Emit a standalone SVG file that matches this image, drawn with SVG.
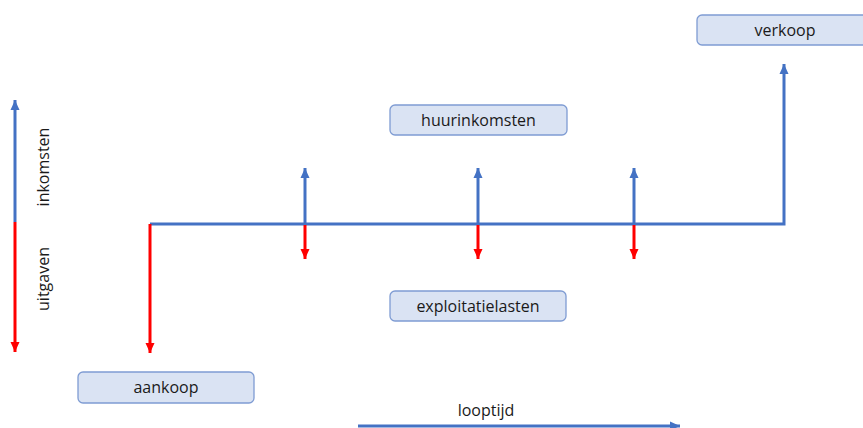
<svg xmlns="http://www.w3.org/2000/svg" width="863" height="428" viewBox="0 0 863 428">
<style>
.box{fill:#DAE3F3;stroke:#7F9CD3;stroke-width:1.3}
.lbl{font-family:"Open Sans","Liberation Sans",sans-serif;font-size:16px;fill:#1a1a1a;text-anchor:middle}
.b{stroke:#4472C4;stroke-width:3;fill:none}
.r{stroke:#FF0000;stroke-width:3;fill:none}
</style>
<defs>
<marker id="ab" markerUnits="userSpaceOnUse" markerWidth="12" markerHeight="12" viewBox="0 0 12 12" refX="11" refY="6" orient="auto"><path d="M1,1.5 L11,6 L1,10.5 Z" fill="#4472C4"/></marker>
<marker id="ar" markerUnits="userSpaceOnUse" markerWidth="12" markerHeight="12" viewBox="0 0 12 12" refX="11" refY="6" orient="auto"><path d="M1,1.5 L11,6 L1,10.5 Z" fill="#FF0000"/></marker>
</defs>
<rect width="863" height="428" fill="#fff"/>
<g id="connectors">
<path class="b" d="M15,222 V100" marker-end="url(#ab)"/>
<path class="r" d="M15,222 V352" marker-end="url(#ar)"/>
<path class="b" d="M150,224 H784 V64" marker-end="url(#ab)"/>
<path class="r" d="M150,224 V353" marker-end="url(#ar)"/>
<path class="b" d="M305,224 V168" marker-end="url(#ab)"/>
<path class="r" d="M305,225 V259" marker-end="url(#ar)"/>
<path class="b" d="M478,224 V168" marker-end="url(#ab)"/>
<path class="r" d="M478,225 V259" marker-end="url(#ar)"/>
<path class="b" d="M634,224 V168" marker-end="url(#ab)"/>
<path class="r" d="M634,225 V259" marker-end="url(#ar)"/>
<path class="b" d="M358,426 H680" marker-end="url(#ab)"/>
</g>
<g id="axis-labels">
<text class="lbl" transform="translate(49,167) rotate(-90)">inkomsten</text>
<text class="lbl" transform="translate(49,279) rotate(-90)">uitgaven</text>
</g>
<g id="verkoop"><rect class="box" x="697" y="15" width="176" height="30" rx="5"/><text class="lbl" x="785" y="35.5">verkoop</text></g>
<g id="huurinkomsten"><rect class="box" x="390" y="105" width="177" height="30" rx="5"/><text class="lbl" x="478.5" y="125.5">huurinkomsten</text></g>
<g id="exploitatielasten"><rect class="box" x="390" y="291" width="176" height="30" rx="5"/><text class="lbl" x="478" y="311.5">exploitatielasten</text></g>
<g id="aankoop"><rect class="box" x="78" y="372" width="176" height="31" rx="5"/><text class="lbl" x="166" y="392.5">aankoop</text></g>
<g id="looptijd"><text class="lbl" x="486" y="416">looptijd</text></g>
</svg>
